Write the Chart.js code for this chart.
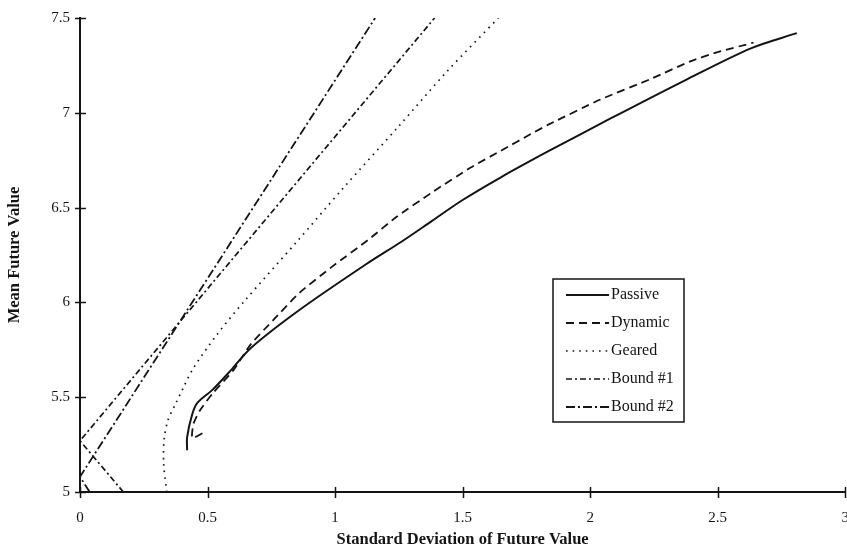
<!DOCTYPE html>
<html>
<head>
<meta charset="utf-8">
<script src="https://cdn.jsdelivr.net/npm/chart.js@4.4.1/dist/chart.umd.min.js"></script>
<style>
    html, body { margin: 0; padding: 0; background: #fff; overflow: hidden; }
    #wrap { position: relative; width: 858px; height: 552px; }
</style>
</head>
<body>
<div id="wrap"><canvas id="chart"></canvas></div>
<script>
'use strict';

// ===== データ =====

const X_TICKS = [0, 0.5, 1, 1.5, 2, 2.5, 3];
const Y_TICKS = [5, 5.5, 6, 6.5, 7, 7.5];

const PASSIVE_SD   = [0.42, 0.42, 0.44, 0.46, 0.52, 0.59, 0.67, 0.86, 1.12, 1.26, 1.38, 1.5, 1.65, 1.84, 2.08, 2.37, 2.63, 2.81];
const PASSIVE_MEAN = [5.22, 5.29, 5.41, 5.47, 5.54, 5.64, 5.76, 5.96, 6.2, 6.32, 6.43, 6.54, 6.66, 6.8, 6.97, 7.17, 7.34, 7.42];

const DYNAMIC_SD   = [0.48, 0.44, 0.445, 0.47, 0.52, 0.6, 0.67, 0.76, 0.86, 0.99, 1.13, 1.24, 1.38, 1.53, 1.65, 1.77, 1.84, 2.04, 2.24, 2.39, 2.5, 2.64];
const DYNAMIC_MEAN = [5.31, 5.285, 5.36, 5.43, 5.52, 5.64, 5.78, 5.91, 6.05, 6.19, 6.33, 6.45, 6.58, 6.71, 6.8, 6.89, 6.94, 7.07, 7.18, 7.27, 7.32, 7.37];

const GEARED_SD    = [0.34, 0.328, 0.33, 0.345, 0.373, 0.405, 0.443, 0.537, 0.64, 0.85, 1.03, 1.25, 1.44, 1.64];
const GEARED_MEAN  = [5.0, 5.15, 5.28, 5.38, 5.46, 5.55, 5.65, 5.83, 6.0, 6.32, 6.6, 6.93, 7.22, 7.5];

const BOUND1_SD    = [0.17, 0, 1.39];
const BOUND1_MEAN  = [5.0, 5.27, 7.5];

const BOUND2_SD    = [0.038, 0, 1.157];
const BOUND2_MEAN  = [5.0, 5.08, 7.5];

const SERIES = [
    { label: 'Passive',  sd: PASSIVE_SD, mean: PASSIVE_MEAN, dash: [],           width: 2,   tension: 0.3 },
    { label: 'Dynamic',  sd: DYNAMIC_SD, mean: DYNAMIC_MEAN, dash: [8, 5],       width: 1.8, tension: 0.2 },
    { label: 'Geared',   sd: GEARED_SD,  mean: GEARED_MEAN,  dash: [1.6, 5],     width: 1.7, tension: 0.3 },
    { label: 'Bound #1', sd: BOUND1_SD,  mean: BOUND1_MEAN,  dash: [6, 3, 2, 3], width: 1.7, tension: 0 },
    { label: 'Bound #2', sd: BOUND2_SD,  mean: BOUND2_MEAN,  dash: [9, 3, 2, 3], width: 1.8, tension: 0 },
];

const INK   = '#141414';
const SERIF = '"Liberation Serif", "Times New Roman", serif';

// ===== 軸の目盛り（軸をまたぐ短い線） =====

const crossTicks = {
    id: 'crossTicks',
    afterDraw(chart) {
        const { ctx, scales: { x, y } } = chart;
        ctx.save();
        ctx.strokeStyle = INK;
        ctx.lineWidth = 1.5;
        ctx.beginPath();
        X_TICKS.forEach(v => {
            const px = Math.round(x.getPixelForValue(v)) + 0.5;
            ctx.moveTo(px, y.bottom - 5);
            ctx.lineTo(px, y.bottom + 6);
        });
        Y_TICKS.forEach(v => {
            const py = Math.round(y.getPixelForValue(v)) + 0.5;
            ctx.moveTo(x.left - 5, py);
            ctx.lineTo(x.left + 6, py);
        });
        ctx.stroke();
        ctx.restore();
    },
};

// ===== 凡例（枠付き） =====

const boxLegend = {
    id: 'boxLegend',
    afterDraw(chart) {
        const { ctx } = chart;
        const left = 553, top = 279, w = 131, h = 143;
        ctx.save();
        ctx.strokeStyle = INK;
        ctx.lineWidth = 1.5;
        ctx.strokeRect(left, top, w, h);

        ctx.font = `16px ${SERIF}`;
        ctx.fillStyle = INK;
        ctx.textBaseline = 'middle';
        chart.data.datasets.forEach((ds, i) => {
            const rowY = top + 16 + i * 28;
            ctx.beginPath();
            ctx.setLineDash(ds.borderDash);
            ctx.lineWidth = ds.borderWidth;
            ctx.moveTo(left + 13, rowY);
            ctx.lineTo(left + 56, rowY);
            ctx.stroke();
            ctx.setLineDash([]);
            ctx.fillText(ds.label, left + 58, rowY);
        });
        ctx.restore();
    },
};

// ===== グラフ =====

const datasets = SERIES.map(s => ({
    label: s.label,
    data: s.sd.map((v, i) => ({ x: v, y: s.mean[i] })),
    showLine: true,
    borderColor: INK,
    backgroundColor: INK,
    borderWidth: s.width,
    borderDash: s.dash,
    tension: s.tension,
    pointRadius: 0,
    pointHoverRadius: 0,
    fill: false,
}));

const tickFont  = { family: SERIF, size: 15 };
const titleFont = { family: SERIF, size: 16.5, weight: 'bold' };
const plainNum  = v => String(v);

new Chart(document.getElementById('chart'), {
    type: 'scatter',
    data: { datasets },
    options: {
        responsive: true,
        maintainAspectRatio: false,
        animation: false,
        layout: { padding: { top: 18, right: 0, bottom: 0, left: 0 } },
        plugins: {
            legend:  { display: false },
            tooltip: { enabled: false },
        },
        scales: {
            x: {
                type: 'linear',
                min: 0,
                max: 3,
                afterBuildTicks: s => { s.ticks = X_TICKS.map(v => ({ value: v })); },
                afterFit: s => { s.height = 60; },
                ticks: { font: tickFont, color: INK, padding: 9, maxRotation: 0, autoSkip: false, callback: plainNum },
                grid:  { display: false },
                border: { display: true, color: INK, width: 2 },
                title: {
                    display: true,
                    text: 'Standard Deviation of Future Value',
                    font: titleFont,
                    color: INK,
                    padding: { top: 4, bottom: 2 },
                },
            },
            y: {
                type: 'linear',
                min: 5,
                max: 7.5,
                afterBuildTicks: s => { s.ticks = Y_TICKS.map(v => ({ value: v })); },
                afterFit: s => { s.width = 80; },
                ticks: { font: tickFont, color: INK, padding: 2, autoSkip: false, callback: plainNum },
                grid:  { display: false },
                border: { display: true, color: INK, width: 2 },
                title: {
                    display: true,
                    text: 'Mean Future Value',
                    font: titleFont,
                    color: INK,
                    padding: { top: 5, bottom: 4 },
                },
            },
        },
    },
    plugins: [crossTicks, boxLegend],
});
</script>
</body>
</html>
